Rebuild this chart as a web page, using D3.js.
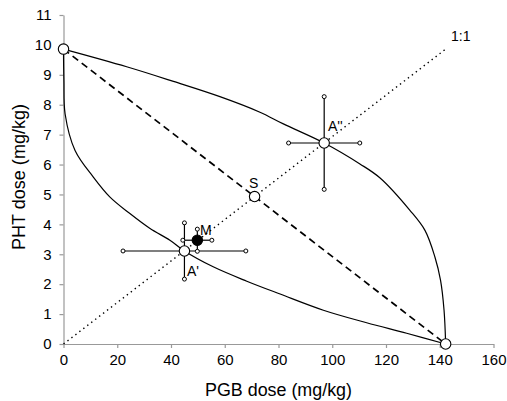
<!DOCTYPE html>
<html><head><meta charset="utf-8">
<script src="https://cdn.jsdelivr.net/npm/d3@7"></script>
<style>
html,body{margin:0;padding:0;background:#fff;}
svg{display:block;font-family:"Liberation Sans",Arial,sans-serif;}
</style></head>
<body>
<svg id="chart" width="507" height="401"></svg>
<script>
// ---- data ----
const xTicks = [0,20,40,60,80,100,120,140,160];
const yTicks = [0,1,2,3,4,5,6,7,8,9,10,11];
const upperX = [0, 23.5, 40.9, 58.2, 73.1, 81.8, 97.0, 110.3, 117.8, 128.9, 134.5, 138.2, 140.3, 141.6, 142.2];
const upperY = [9.86, 9.27, 8.78, 8.27, 7.75, 7.36, 6.72, 6.02, 5.55, 4.47, 3.8, 2.91, 2.13, 1.13, 0];
const lowerX = [0, 0.15, 0.6, 4.3, 11.1, 17.3, 24.7, 32.2, 39.6, 45.0, 55.7, 68.2, 80.6, 96.7, 112.8, 127.7, 142.2];
const lowerY = [9.86, 8.8, 7.69, 6.47, 5.58, 4.91, 4.36, 3.86, 3.47, 3.11, 2.58, 2.1, 1.67, 1.13, 0.71, 0.36, 0];
const additiveX = [0, 142.2];
const additiveY = [9.86, 0];
const ratioX = [0, 142.2];
const ratioY = [0, 9.86];
const pointNames = ["PHT", "PGB", "S", "A'", "A''", "M"];
const pointX = [0, 142.2, 71.1, 45.0, 97.0, 49.8];
const pointY = [9.86, 0, 4.93, 3.11, 6.72, 3.47];
const pointXErr = [0, 0, 0, 22.85, 13.25, 5.4];
const pointYErr = [0, 0, 0, 0.94, 1.55, 0.37];
const pointFilled = [false, false, false, false, false, true];

const svg = d3.select("#chart");
const x = d3.scaleLinear().domain([0,160]).range([63.5,493.5]);
const y = d3.scaleLinear().domain([0,11]).range([344,15]);

// axes
const gx = svg.append("g").attr("transform","translate(0,344)")
  .call(d3.axisBottom(x).tickValues(xTicks).tickSize(4).tickSizeOuter(0).tickPadding(6));
const gy = svg.append("g").attr("transform","translate(63.5,0)")
  .call(d3.axisLeft(y).tickValues(yTicks).tickSize(4).tickSizeOuter(0).tickPadding(8));
[gx,gy].forEach(g=>{
  g.select(".domain").attr("stroke","#999").attr("stroke-width",1.2);
  g.selectAll(".tick line").attr("stroke","#999").attr("stroke-width",1.2);
  g.selectAll(".tick text").attr("fill","#000").style("font-size","15px")
    .style("font-family","'Liberation Sans',Arial,sans-serif");
});

// titles
svg.append("text").attr("x",278.5).attr("y",396).attr("text-anchor","middle")
  .style("font-size","18px").attr("textLength",147).attr("lengthAdjust","spacingAndGlyphs")
  .text("PGB dose (mg/kg)");
svg.append("text").attr("transform","translate(25,177) rotate(-90)").attr("text-anchor","middle")
  .style("font-size","18px").attr("textLength",146).attr("lengthAdjust","spacingAndGlyphs")
  .text("PHT dose (mg/kg)");

const line = d3.line().x(d=>x(d[0])).y(d=>y(d[1]));
const smooth = d3.line().x(d=>x(d[0])).y(d=>y(d[1])).curve(d3.curveCatmullRom.alpha(0.5));

// 1:1 dotted
svg.append("path").datum(d3.zip(ratioX, ratioY)).attr("d", line)
  .attr("fill","none").attr("stroke","#000").attr("stroke-width",1.4)
  .attr("stroke-dasharray","1.4,3.6");
// additive dashed
svg.append("path").datum(d3.zip(additiveX, additiveY)).attr("d", line)
  .attr("fill","none").attr("stroke","#000").attr("stroke-width",1.7)
  .attr("stroke-dasharray","7,4.5");
// curves
svg.append("path").datum(d3.zip(upperX, upperY)).attr("d", smooth)
  .attr("fill","none").attr("stroke","#000").attr("stroke-width",1.2);
svg.append("path").datum(d3.zip(lowerX, lowerY)).attr("d", smooth)
  .attr("fill","none").attr("stroke","#000").attr("stroke-width",1.2);

// error bars
const pts = pointNames.map((n,i)=>({n, x:pointX[i], y:pointY[i], xe:pointXErr[i], ye:pointYErr[i], f:pointFilled[i]}));
const eb = svg.append("g");
pts.filter(p=>p.xe>0).forEach(p=>{
  eb.append("line").attr("x1",x(p.x-p.xe)).attr("x2",x(p.x+p.xe)).attr("y1",y(p.y)).attr("y2",y(p.y))
    .attr("stroke","#000").attr("stroke-width",1.2);
  eb.append("line").attr("x1",x(p.x)).attr("x2",x(p.x)).attr("y1",y(p.y-p.ye)).attr("y2",y(p.y+p.ye))
    .attr("stroke","#000").attr("stroke-width",1.2);
  [[p.x-p.xe,p.y],[p.x+p.xe,p.y],[p.x,p.y-p.ye],[p.x,p.y+p.ye]].forEach(c=>{
    eb.append("circle").attr("cx",x(c[0])).attr("cy",y(c[1])).attr("r",2)
      .attr("fill","#fff").attr("stroke","#000").attr("stroke-width",1);
  });
});

// points
svg.append("g").selectAll("circle").data(pts).join("circle")
  .attr("cx",d=>x(d.x)).attr("cy",d=>y(d.y)).attr("r",5.2)
  .attr("fill",d=>d.f?"#000":"#fff").attr("stroke","#000").attr("stroke-width",1.1);

// annotations
const ann = [["M",200,235],["A'",187,276],["A''",328,131],["S",249,188],["1:1",451,41]];
svg.append("g").selectAll("text").data(ann).join("text")
  .attr("x",d=>d[1]).attr("y",d=>d[2]).style("font-size","14px").text(d=>d[0]);
</script>
</body></html>
